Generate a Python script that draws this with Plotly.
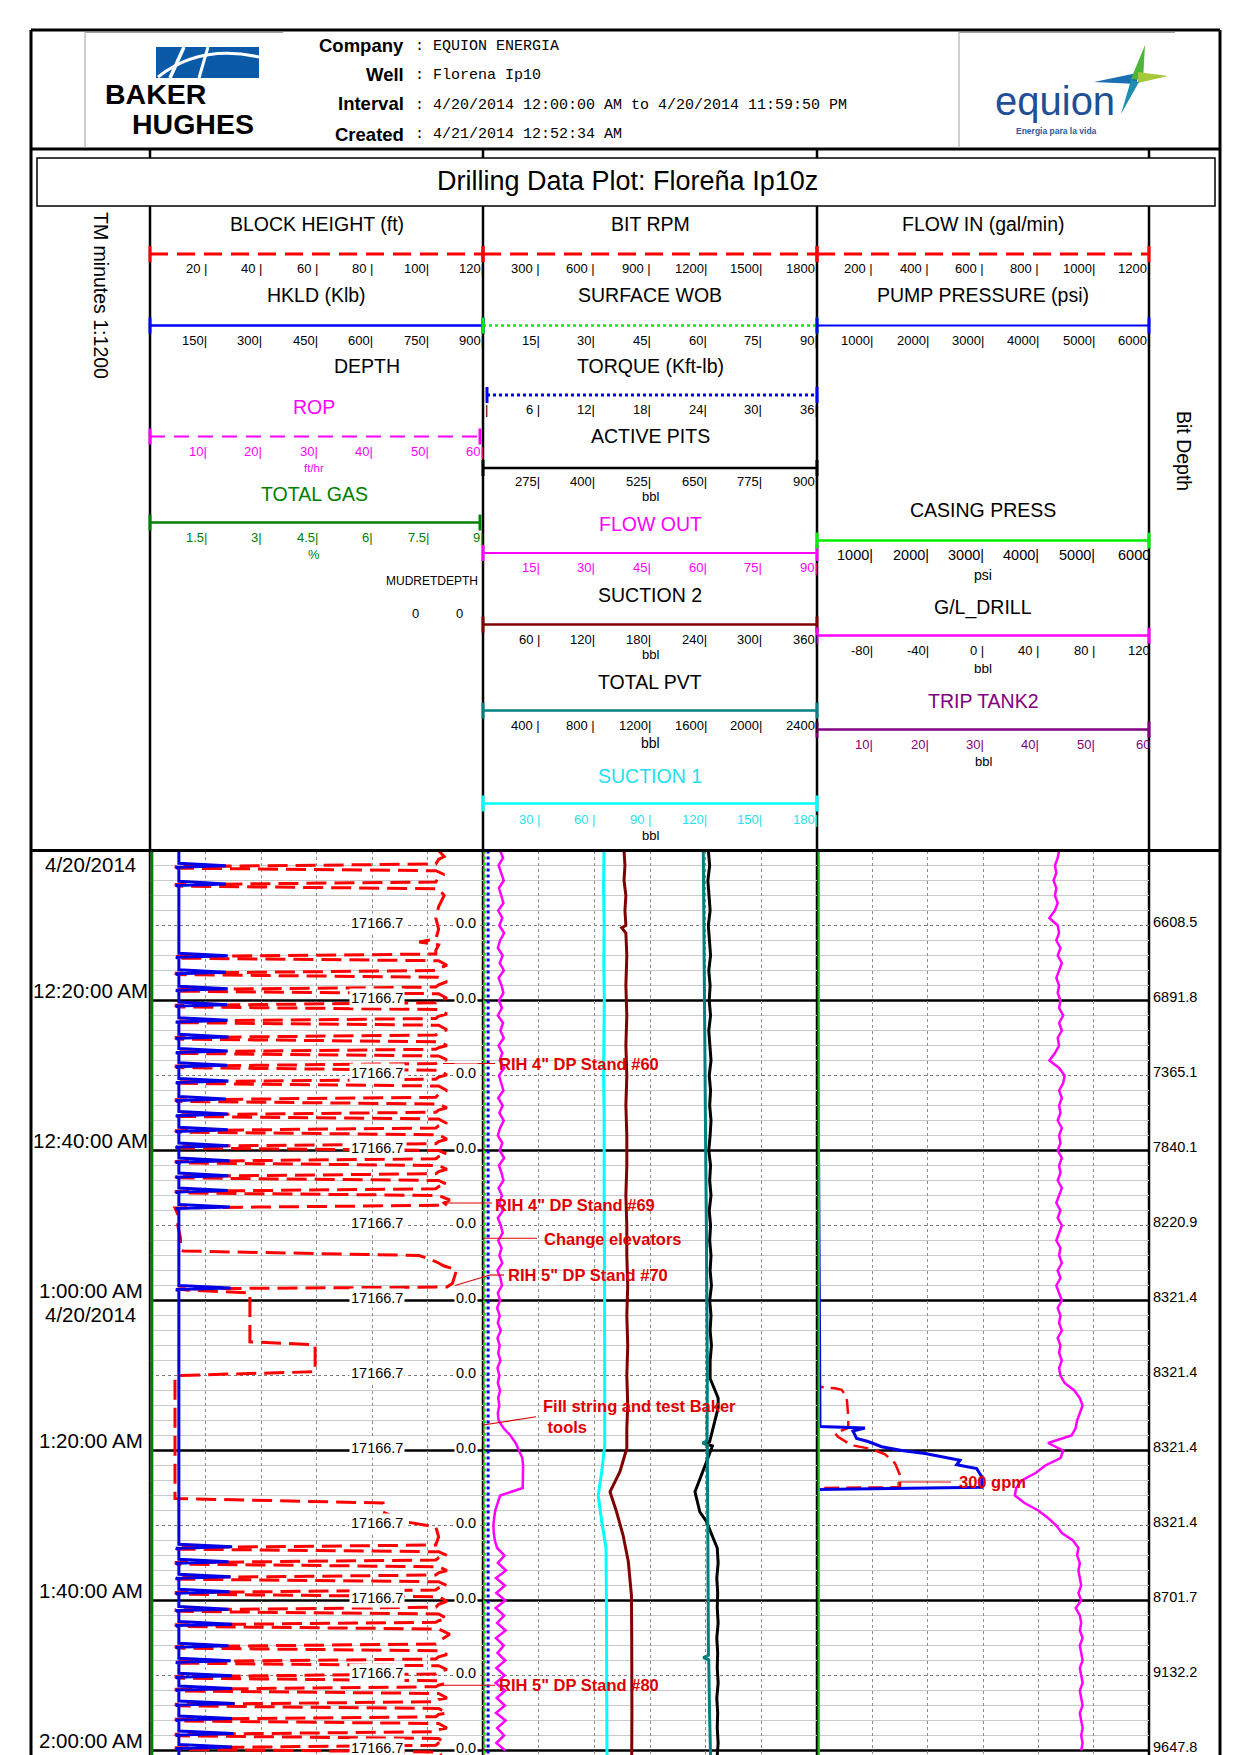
import plotly.graph_objects as go

# ============================ DATA ============================
# time = minutes after 4/20/2014 12:00:00 AM
T_END = 120.6

# --- Track 1 : BLOCK HEIGHT (ft) ---
bh_t = [0, 0.8, 1.2,
        1.8, 2.15, 2.35, 2.7, 3.2, 3.6,
        4.2, 4.55, 4.75, 5.1, 6.0, 7.5, 9.0, 10.5, 11.8, 12.2, 12.6, 13.3,
        13.8, 14.15, 14.35, 14.7, 15.3, 15.7,
        16.0, 16.35, 16.55, 16.9, 17.5, 17.9,
        18.2, 18.55, 18.75, 19.1, 19.7, 20.0,
        20.3, 20.65, 20.85, 21.2, 21.8, 22.1,
        22.4, 22.75, 22.95, 23.3, 23.9, 24.3,
        24.6, 24.95, 25.15, 25.5, 26.0, 26.3,
        26.5, 26.85, 27.05, 27.4, 27.9, 28.2,
        28.4, 28.75, 28.95, 29.3, 29.9, 30.2,
        30.5, 30.85, 31.05, 31.4, 32.0, 32.5,
        32.9, 33.25, 33.45, 33.8, 34.3, 34.6,
        34.9, 35.25, 35.45, 35.8, 36.4, 36.7,
        37.0, 37.35, 37.55, 37.9, 38.5, 38.8,
        39.1, 39.45, 39.65, 40.0, 40.5, 40.8,
        41.1, 41.45, 41.65, 42.0, 42.5, 42.8,
        43.1, 43.45, 43.65, 44.0, 44.5, 44.8,
        45.1, 45.45, 45.65, 46.0, 46.6, 47.0,
        47.3, 47.65, 48.5, 50.0, 51.7, 53.2,
        53.4, 54.0, 54.5, 55.0, 55.4, 55.9, 57.7, 58.2,
        58.45, 58.6, 59.0, 65.5, 65.9, 69.5, 70.0, 70.3, 86.4, 87.0, 88.2, 89.5, 90.2, 91.5,
        92.6, 92.95, 93.15, 93.5, 94.0, 94.3,
        94.6, 94.95, 95.15, 95.5, 96.0, 96.3,
        96.6, 96.95, 97.15, 97.5, 98.0, 98.3,
        98.6, 98.95, 99.15, 99.5, 100.1, 100.5,
        100.9, 101.25, 101.45, 101.8, 102.4, 102.7,
        102.9, 103.25, 103.45, 103.8, 104.5, 105.2,
        105.8, 106.15, 106.35, 106.7, 107.2, 107.5,
        107.8, 108.15, 108.35, 108.7, 109.2, 109.5,
        109.8, 110.15, 110.35, 110.7, 111.1, 111.3,
        111.5, 111.85, 112.05, 112.4, 113.0, 113.2,
        113.5, 113.85, 114.05, 114.4, 115.0, 115.2,
        115.5, 115.85, 116.05, 116.4, 117.0, 117.2,
        117.5, 117.85, 118.05, 118.4, 118.9, 119.0,
        119.3, 119.65, 119.85, 120.2, 120.6]
bh_v = [104, 106, 104,
        103, 9, 10, 103, 106, 104,
        103, 9, 10, 104, 106, 104, 103, 104, 103, 97, 104, 103,
        103, 9, 10, 104, 107, 104,
        103, 9, 10, 104, 107, 104,
        103, 9, 10, 104, 107, 104,
        103, 9, 10, 104, 107, 104,
        103, 9, 10, 104, 107, 104,
        103, 9, 10, 104, 107, 104,
        103, 9, 10, 104, 107, 104,
        103, 9, 10, 104, 107, 104,
        103, 9, 10, 104, 107, 104,
        103, 9, 10, 104, 107, 104,
        103, 9, 10, 104, 107, 104,
        103, 9, 10, 104, 107, 104,
        103, 9, 10, 104, 107, 104,
        103, 9, 10, 104, 107, 104,
        103, 9, 10, 104, 107, 104,
        103, 9, 10, 104, 108, 106,
        107, 9, 10, 10, 11, 11,
        12, 97, 101, 104, 106, 110.5, 109, 107,
        10, 13, 36, 36, 59.5, 59.5, 10, 9, 9, 84, 84, 92, 103, 104,
        103, 9, 10, 104, 107, 104,
        103, 9, 10, 104, 107, 104,
        103, 9, 10, 104, 107, 104,
        103, 9, 10, 104, 107, 104,
        103, 9, 10, 104, 107, 104,
        103, 9, 10, 104, 108, 105,
        103, 9, 10, 104, 107, 104,
        103, 9, 10, 104, 107, 104,
        103, 9, 10, 104, 106, 104,
        103, 9, 10, 104, 107, 104,
        103, 9, 10, 104, 107, 104,
        103, 9, 10, 104, 107, 104,
        103, 9, 10, 104, 106, 104,
        103, 9, 10, 104, 105]

# --- Track 1 : HKLD (Klb) ---
hkld_t = [0,
          1.7, 2.05, 2.25, 2.4,
          4.1, 4.45, 4.65, 4.8,
          13.7, 14.05, 14.25, 14.4,
          15.9, 16.25, 16.45, 16.6,
          18.1, 18.45, 18.65, 18.8,
          20.2, 20.55, 20.75, 20.9,
          22.3, 22.65, 22.85, 23.0,
          24.5, 24.85, 25.05, 25.2,
          26.4, 26.75, 26.95, 27.1,
          28.3, 28.65, 28.85, 29.0,
          30.4, 30.75, 30.95, 31.1,
          32.8, 33.15, 33.35, 33.5,
          34.8, 35.15, 35.35, 35.5,
          36.9, 37.25, 37.45, 37.6,
          39.0, 39.35, 39.55, 39.7,
          41.0, 41.35, 41.55, 41.7,
          43.0, 43.35, 43.55, 43.7,
          45.0, 45.35, 45.55, 45.7,
          47.2, 47.55, 47.75, 47.9,
          58.0, 58.35, 58.55, 58.7,
          92.5, 92.85, 93.05, 93.2,
          94.5, 94.85, 95.05, 95.2,
          96.5, 96.85, 97.05, 97.2,
          98.5, 98.85, 99.05, 99.2,
          100.8, 101.15, 101.35, 101.5,
          102.8, 103.15, 103.35, 103.5,
          105.7, 106.05, 106.25, 106.4,
          107.7, 108.05, 108.25, 108.4,
          109.7, 110.05, 110.25, 110.4,
          111.4, 111.75, 111.95, 112.1,
          113.4, 113.75, 113.95, 114.1,
          115.4, 115.75, 115.95, 116.1,
          117.4, 117.75, 117.95, 118.1,
          119.2, 119.55, 119.75, 119.9,
          120.6]
hkld_v = [78,
          78, 205, 70, 78,
          78, 205, 70, 78,
          78, 210, 70, 78,
          78, 205, 70, 78,
          78, 210, 70, 78,
          78, 208, 70, 78,
          78, 210, 70, 78,
          78, 212, 70, 78,
          78, 210, 70, 78,
          78, 208, 70, 78,
          78, 212, 70, 78,
          78, 205, 70, 78,
          78, 210, 70, 78,
          78, 210, 70, 78,
          78, 212, 70, 78,
          78, 215, 70, 78,
          78, 212, 70, 78,
          78, 210, 70, 78,
          78, 216, 70, 78,
          78, 218, 70, 78,
          78, 222, 70, 78,
          78, 212, 70, 78,
          78, 218, 70, 78,
          78, 215, 70, 78,
          78, 212, 70, 78,
          78, 222, 70, 78,
          78, 212, 70, 78,
          78, 218, 70, 78,
          78, 222, 70, 78,
          78, 222, 70, 78,
          78, 228, 70, 78,
          78, 222, 70, 78,
          78, 225, 70, 78,
          78, 222, 70, 78,
          78]

# flat curves (track edges)
flat_t = [0, T_END]
gas_v = [0.05, 0.05]        # TOTAL GAS %
rop_v = [0.2, 0.2]          # ROP ft/hr
rpm_v = [0, 0]              # BIT RPM
wob_v = [0.4, 0.4]          # SURFACE WOB
torque_v = [0.55, 0.55]     # TORQUE
casing_v = [30, 30]         # CASING PRESS
trip_v = [0, 0]             # TRIP TANK2

# --- Track 2 : FLOW OUT (1-min samples) ---
minutes = list(range(0, 121))
flowout_v = [4.6, 5.4, 4.2, 5.0, 5.6, 4.3, 4.9, 5.5, 4.1, 5.2,
             4.4, 5.7, 4.6, 4.0, 5.3, 4.5, 5.6, 4.2, 5.0, 5.5,
             4.3, 5.1, 4.0, 5.4, 4.7, 5.6, 4.2, 5.2, 4.5, 5.7,
             4.3, 4.9, 5.5, 4.1, 5.3, 4.4, 5.6, 4.6, 4.0, 5.2,
             4.5, 5.7, 4.3, 5.0, 5.5, 4.2, 5.1, 4.4, 5.4, 4.0,
             4.8, 5.3, 4.1, 5.0, 4.4, 5.2, 3.9, 4.7, 5.1, 4.0,
             4.6, 3.8, 4.5, 4.0, 4.8, 3.9, 4.5, 4.1, 4.7, 3.9,
             4.4, 4.0, 4.6, 4.1, 4.4, 4.0, 4.2, 5.5, 7.4, 8.8,
             9.8, 10.6, 10.8, 10.8, 10.9, 10.7, 4.6, 3.9, 3.3, 3.0,
             2.8, 2.9, 3.2, 3.8, 5.8, 4.0, 6.2, 3.5, 5.9, 3.6,
             6.0, 3.4, 5.7, 3.8, 6.1, 3.5, 5.6, 3.9, 6.0, 3.6,
             5.8, 3.4, 6.0, 3.7, 5.9, 3.5, 6.1, 3.8, 5.7, 3.6,
             6.0]

# --- Track 2 : SUCTION 1 (bbl) ---
s1_t = [0, 5, 10, 15, 20, 25, 30, 35, 40, 45, 50, 55, 60, 65, 70, 75, 79.3, 82.8, 86, 89.5, 93, 100, 110, 120.6]
s1_v = [65.2, 65.0, 65.3, 65.1, 65.4, 65.2, 65.0, 65.3, 65.2, 65.4, 65.3, 65.5, 65.6, 65.5, 65.7, 65.6,
        65.6, 64.0, 62.1, 64.0, 66.3, 66.5, 66.7, 66.8]

# --- Track 2 : SUCTION 2 (bbl) ---
s2_t = [0, 2, 4, 6, 8, 10, 10.3, 11, 14, 18, 22, 26, 30, 34, 38, 42, 46, 50, 54, 58, 62, 66, 70, 74, 77,
        79.7, 82.8, 85.5, 88.2, 91.3, 94.8, 99.3, 105, 110, 115, 120.6]
s2_v = [152, 153, 152, 154, 153, 154, 149.5, 154, 155, 154, 155, 154, 155, 154, 155, 155, 154, 155, 155,
        156, 155, 156, 155, 156, 155, 155, 147.7, 136.9, 144, 151, 156.6, 160, 160.3, 160, 160.5, 160.3]

# --- Track 2 : TOTAL PVT (bbl) ---
pvt_t = [0, 10, 20, 30, 40, 50, 60, 70, 78.7, 79.0, 79.3, 90, 100, 107.3, 107.6, 107.9, 115, 120.6]
pvt_v = [1583, 1586, 1590, 1595, 1600, 1605, 1610, 1612, 1610, 1578, 1612, 1615, 1620, 1620, 1583, 1622, 1628, 1635]

# --- Track 2 : ACTIVE PITS (bbl) ---
pits_t = [0, 2, 4, 6, 8, 10, 12, 14, 16, 18, 20, 22, 24, 26, 28, 30, 32, 34, 36, 38, 40, 42, 44, 46, 48,
          50, 52, 54, 56, 58, 60, 62, 64, 66, 68,
          70.4, 73, 74.3, 77, 78.8, 79.0, 79.4, 81.5, 85.5, 88.2, 89.5, 91.7, 93, 95, 97, 99, 101, 103,
          105, 107, 109, 111, 113, 115, 117, 119, 120.6]
pits_v = [656, 659, 655, 658, 660, 656, 659, 661, 657, 660, 658, 661, 657, 660, 662, 658, 661, 659, 662,
          660, 657, 661, 659, 662, 658, 661, 659, 662, 660, 663, 659, 662, 660, 663, 660,
          660, 678, 678, 667, 659, 645, 665, 652, 626, 637, 652, 667, 676, 678, 675, 677, 676, 678,
          675, 677, 676, 678, 675, 677, 676, 678, 676]

# --- Track 3 : FLOW IN (gal/min) ---
flowin_t = [0, 71.5, 71.7, 71.9, 72.8, 75.5, 77.0, 77.7, 78.2, 79.3, 79.8, 80.5, 81.7, 83.3, 84.9, 85.0, 120.6]
flowin_v = [0, 0, 65, 89, 107, 113, 113, 65, 77, 125, 198, 246, 282, 300, 300, 0, 0]

# --- Track 3 : PUMP PRESSURE (psi) ---
pump_t = [0, 76.8, 77.0, 77.4, 78.4, 78.8, 79.5, 80.0, 80.4, 81.1, 81.3, 81.9, 82.4, 83.5, 84.9, 85.2, 120.6]
pump_v = [0, 54, 867, 650, 717, 922, 1169, 1530, 1952, 2494, 2584, 2524, 2886, 2976, 2976, 0, 0]

# --- Track 3 : G/L_DRILL (bbl, 1-min samples) ---
gl_v = [55, 54, 52, 53, 51, 53, 52, 54, 52, 48,
        54, 55, 53, 56, 54, 57, 55, 53, 55, 54,
        56, 55, 58, 55, 57, 54, 55, 52, 48, 55,
        59, 58, 55, 57, 55, 56, 54, 57, 55, 56,
        54, 57, 55, 56, 54, 57, 55, 53, 56, 54,
        57, 55, 53, 56, 55, 57, 54, 56, 53, 55,
        57, 54, 56, 55, 57, 54, 56, 55, 57, 55,
        56, 59, 66, 70, 72, 70, 68, 67, 64, 47,
        58, 56, 45, 38, 28, 24, 23, 30, 40, 47,
        53, 57, 65, 69, 68, 70, 69, 70, 71, 69,
        71, 67, 70, 71, 70, 72, 70, 71, 72, 70,
        71, 72, 70, 71, 72, 70, 71, 72, 71, 72,
        71]

# --- labels ---
time_label_min = [20, 40, 60, 80, 100, 120]
time_labels = ["12:20:00 AM", "12:40:00 AM", "1:00:00 AM", "1:20:00 AM", "1:40:00 AM", "2:00:00 AM"]
date_label = "4/20/2014"
depth_label_min = [10, 20, 30, 40, 50, 60, 70, 80, 90, 100, 110, 120]
depth_labels = ["6608.5", "6891.8", "7365.1", "7840.1", "8220.9", "8321.4",
                "8321.4", "8321.4", "8321.4", "8701.7", "9132.2", "9647.8"]
mudret_depth_label = "17166.7"
mudret_value_label = "0.0"

event_text = ['RIH 4" DP Stand #60', 'RIH 4" DP Stand #69', 'Change elevators',
              'RIH 5" DP Stand #70', 'Fill string and test Baker<br>\u00a0tools', 'RIH 5" DP Stand #80']
event_min = [28.4, 47.2, 51.8, 56.6, 75.5, 111.3]
gpm_text = "300 gpm"
gpm_min = 84.2

block_ticks = ["20 |", "40 |", "60 |", "80 |", "100|", "120|"]
hkld_ticks = ["150|", "300|", "450|", "600|", "750|", "900|"]
rop_ticks = ["10|", "20|", "30|", "40|", "50|", "60|"]
gas_ticks = ["1.5|", "3|", "4.5|", "6|", "7.5|", "9|"]
rpm_ticks = ["300 |", "600 |", "900 |", "1200|", "1500|", "1800|"]
wob_ticks = ["15|", "30|", "45|", "60|", "75|", "90|"]
torque_ticks = ["6 |", "12|", "18|", "24|", "30|", "36|"]
pits_ticks = ["275|", "400|", "525|", "650|", "775|", "900|"]
flowout_ticks = ["15|", "30|", "45|", "60|", "75|", "90|"]
suct2_ticks = ["60 |", "120|", "180|", "240|", "300|", "360|"]
pvt_ticks = ["400 |", "800 |", "1200|", "1600|", "2000|", "2400|"]
suct1_ticks = ["30 |", "60 |", "90 |", "120|", "150|", "180|"]
flowin_ticks = ["200 |", "400 |", "600 |", "800 |", "1000|", "1200|"]
pump_ticks = ["1000|", "2000|", "3000|", "4000|", "5000|", "6000|"]
casing_ticks = ["1000|", "2000|", "3000|", "4000|", "5000|", "6000"]
gl_ticks = ["-80|", "-40|", "0 |", "40 |", "80 |", "120"]
trip_ticks = ["10|", "20|", "30|", "40|", "50|", "60"]

assert len(bh_t) == len(bh_v) and len(hkld_t) == len(hkld_v)
assert len(flowout_v) == len(minutes) == len(gl_v)
assert len(pits_t) == len(pits_v) and len(s2_t) == len(s2_v)

# ============================ LAYOUT HELPERS ============================
W, H = 1240, 1755
FONT = "Liberation Sans, Arial, Helvetica, sans-serif"
MONO = "Liberation Mono, Courier New, monospace"
RED, BLUE, DBLUE = "#ff0000", "#0000ff", "#0000e6"
MAGENTA, GREEN, LIME = "#ff00ff", "#008000", "#00ee00"
DARKRED, TEAL, CYAN, CYANTXT, PURPLE = "#800000", "#008080", "#00ffff", "#1ee0f0", "#800080"
ANNRED = "#e00000"

T1, T2, T3 = (150, 483), (483, 817), (817, 1149)
DATA_TOP = 850.5


def px(x):
    return x / W


def py(y):
    return 1 - y / H


shapes, annotations = [], []


def line(x0, y0, x1, y1, color="black", width=1.0, dash=None, layer="above"):
    ln = dict(color=color, width=width)
    if dash:
        ln["dash"] = dash
    shapes.append(dict(type="line", xref="paper", yref="paper", x0=px(x0), y0=py(y0),
                       x1=px(x1), y1=py(y1), line=ln, layer=layer))


def txt(x, y, s, size, color="black", xanchor="center", family=FONT, angle=0, yanchor="middle"):
    annotations.append(dict(xref="paper", yref="paper", x=px(x), y=py(y), text=s, showarrow=False,
                            xanchor=xanchor, yanchor=yanchor, textangle=angle,
                            font=dict(family=family, size=size, color=color)))


def path(points, close=True):
    s = "M " + " L ".join(f"{px(a):.5f},{py(b):.5f}" for a, b in points)
    return s + (" Z" if close else "")


def scale(track, y, color, width, dash, labels, lab_color="black", size=13, x_start=None, x_end=None,
          lab_dy=14.5, cap=True):
    L, R = track
    xs = x_start if x_start is not None else L
    xe = x_end if x_end is not None else R
    line(xs, y, xe, y, color, width, dash)
    if cap:
        line(xs, y - 8, xs, y + 8, color, 3)
        line(xe, y - 8, xe, y + 8, color, 3)
    for k, lab in enumerate(labels, 1):
        xt = L + k * (R - L) / 6
        txt(xt + 3, y + lab_dy, lab, size, lab_color, xanchor="right")


# ============================ FRAME ============================
line(31, 30, 1220, 30, "black", 3)
line(31, 149, 1220, 149, "black", 3)
line(31, 30, 31, 1755, "black", 3)
line(1220, 30, 1220, 1755, "black", 3)
for xc in (150, 483, 817, 1149):
    line(xc, 149, xc, 1755, "black", 2.5, layer="below")
line(31, DATA_TOP, 1220, DATA_TOP, "black", 3)
shapes.append(dict(type="rect", xref="paper", yref="paper", x0=px(37), x1=px(1215), y0=py(158), y1=py(206),
                   line=dict(color="black", width=1.5), fillcolor="white", layer="above"))
txt(627, 181, "Drilling Data Plot: Flore\u00f1a Ip10z", 27)

# ---- logo boxes ----
line(85, 32.5, 283, 32.5, "#a0a0a0", 1)
line(85, 32.5, 85, 148, "#a0a0a0", 1)
line(959, 32.5, 1175, 32.5, "#a0a0a0", 1)
line(959, 32.5, 959, 148, "#a0a0a0", 1)

# Baker Hughes logo
shapes.append(dict(type="rect", xref="paper", yref="paper", x0=px(156), x1=px(259), y0=py(78), y1=py(47),
                   line=dict(width=0), fillcolor="#0a5aa8"))
shapes.append(dict(type="line", xref="paper", yref="paper", x0=px(170), y0=py(78), x1=px(184), y1=py(47),
                   line=dict(color="white", width=3.5)))
shapes.append(dict(type="line", xref="paper", yref="paper", x0=px(199), y0=py(78), x1=px(208), y1=py(47),
                   line=dict(color="white", width=3)))
shapes.append(dict(type="path", xref="paper", yref="paper",
                   path=f"M {px(158):.5f},{py(77):.5f} Q {px(200):.5f},{py(44):.5f} {px(259):.5f},{py(57):.5f}",
                   line=dict(color="white", width=3)))
txt(156, 94, "<b>BAKER</b>", 28.5)
txt(193, 124, "<b>HUGHES</b>", 28.5)

# Equion logo
txt(1055, 101, "equion", 40, "#1f4f97")
txt(1056, 131, "<b>Energia para la vida</b>", 8.5, "#2a5aa0")
for pts, col in (([(1094, 82), (1137, 73), (1137, 84)], "#1a6fb5"),
                 ([(1131, 79), (1145, 45), (1143, 80)], "#4cb535"),
                 ([(1138, 72), (1168, 76), (1138, 83)], "#a7c83a"),
                 ([(1131, 80), (1121, 114), (1139, 82)], "#1f8fb0")):
    shapes.append(dict(type="path", xref="paper", yref="paper", path=path(pts),
                       fillcolor=col, line=dict(width=0)))

# header info
for lab, val, yy in (("Company", "EQUION ENERGIA", 45), ("Well", "Florena Ip10", 75),
                     ("Interval", "4/20/2014 12:00:00 AM to 4/20/2014 11:59:50 PM", 104),
                     ("Created", "4/21/2014 12:52:34 AM", 134)):
    txt(406, yy, f"<b>{lab}</b>", 18.5, xanchor="right")
    txt(413, yy + 1, ": " + val, 15, family=MONO, xanchor="left")

# ============================ HEADER SCALES ============================
c1, c2, c3 = 316.5, 650, 983
HS = 19.5
txt(101, 295, "TM minutes 1:1200", HS, angle=90)
txt(1184, 451, "Bit Depth", HS, angle=90)

# Track 1
txt(c1, 224, "BLOCK HEIGHT (ft)", HS)
scale(T1, 254, RED, 3, "18px,9px", block_ticks)
txt(c1, 295, "HKLD (Klb)", HS)
scale(T1, 325.6, BLUE, 2.5, None, hkld_ticks)
txt(367, 366, "DEPTH", HS)
txt(314, 407, "ROP", HS, MAGENTA)
scale(T1, 436.5, MAGENTA, 2, "15px,9px", rop_ticks, MAGENTA, x_end=480)
txt(314, 468, "ft/hr", 11.5, MAGENTA)
txt(314, 493.5, "TOTAL GAS", HS, GREEN)
scale(T1, 522.6, GREEN, 2.5, None, gas_ticks, GREEN, x_end=480)
txt(314, 554, "%", 13, GREEN)
txt(432, 581, "MUDRETDEPTH", 12)
txt(415, 613, "0", 13)
txt(459, 613, "0", 13)

# Track 2
txt(c2, 224, "BIT RPM", HS)
scale(T2, 254, RED, 3, "18px,9px", rpm_ticks)
txt(c2, 295, "SURFACE WOB", HS)
scale(T2, 325.6, LIME, 2.5, "dot", wob_ticks)
txt(c2, 366, "TORQUE (Kft-lb)", HS)
scale(T2, 395, BLUE, 3, "dot", torque_ticks, x_start=487)
txt(490, 409.6, "|", 13, xanchor="right")
txt(c2, 436, "ACTIVE PITS", HS)
scale(T2, 468, "black", 2.5, None, pits_ticks, lab_dy=13)
txt(c2, 497, "bbl", 13)
txt(c2, 524, "FLOW OUT", HS, MAGENTA)
scale(T2, 553, MAGENTA, 2, None, flowout_ticks, MAGENTA)
txt(c2, 595, "SUCTION 2", HS)
scale(T2, 624.5, DARKRED, 2.5, None, suct2_ticks)
txt(c2, 655, "bbl", 13)
txt(c2, 681.5, "TOTAL PVT", HS)
scale(T2, 710.6, TEAL, 2.5, None, pvt_ticks)
txt(c2, 743, "bbl", 14)
txt(c2, 775.5, "SUCTION 1", HS, CYANTXT)
scale(T2, 803.5, CYAN, 2.5, None, suct1_ticks, CYANTXT, lab_dy=15.5)
txt(c2, 835, "bbl", 13)

# Track 3
txt(c3, 224, "FLOW IN (gal/min)", HS)
scale(T3, 254, RED, 3, "18px,9px", flowin_ticks)
txt(c3, 295, "PUMP PRESSURE (psi)", HS)
scale(T3, 325.6, BLUE, 2, None, pump_ticks)
txt(c3, 510, "CASING PRESS", HS)
scale(T3, 540.5, LIME, 2.5, None, casing_ticks, size=14.5)
txt(c3, 575, "psi", 14)
txt(c3, 607.7, "G/L_DRILL", HS)
scale(T3, 635.6, MAGENTA, 2.5, None, gl_ticks)
txt(c3, 668, "bbl", 13.5)
txt(c3, 700.5, "TRIP TANK2", HS, PURPLE)
scale(T3, 729.6, PURPLE, 2.5, None, trip_ticks, PURPLE)
txt(c3, 761, "bbl", 13)

# ============================ DATA AREA GRID ============================
for m in range(2, 121, 2):
    if m % 20 == 0:
        ln = dict(color="black", width=2.5)
    elif m % 10 == 0:
        ln = dict(color="#7a7a7a", width=1, dash="dot")
    else:
        ln = dict(color="#c9c9c9", width=1)
    shapes.append(dict(type="line", xref="paper", yref="y", x0=px(150), x1=px(1149), y0=m, y1=m,
                       line=ln, layer="below"))

TS = 20.5
# time labels
annotations.append(dict(xref="paper", yref="y", x=px(91), y=0, text=date_label, showarrow=False,
                        xanchor="center", yanchor="top", font=dict(family=FONT, size=TS, color="black")))
for m, lab in zip(time_label_min, time_labels):
    annotations.append(dict(xref="paper", yref="y", x=px(91), y=m, text=lab, showarrow=False,
                            xanchor="center", yanchor="bottom", yshift=-3,
                            font=dict(family=FONT, size=TS, color="black")))
annotations.append(dict(xref="paper", yref="y", x=px(91), y=60, text=date_label, showarrow=False,
                        xanchor="center", yanchor="top", font=dict(family=FONT, size=TS, color="black")))

# depth labels + mud return labels
for m, lab in zip(depth_label_min, depth_labels):
    annotations.append(dict(xref="paper", yref="y", x=px(1151), y=m, text=lab, showarrow=False,
                            xanchor="left", yanchor="middle", yshift=4,
                            font=dict(family=FONT, size=14.5, color="black")))
    annotations.append(dict(xref="paper", yref="y", x=px(405), y=m, text=mudret_depth_label, showarrow=False,
                            xanchor="right", yanchor="middle", yshift=3, bgcolor="white", borderpad=1,
                            font=dict(family=FONT, size=14.5, color="black")))
    annotations.append(dict(xref="paper", yref="y", x=px(478), y=m, text=mudret_value_label, showarrow=False,
                            xanchor="right", yanchor="middle", yshift=3, bgcolor="white", borderpad=1,
                            font=dict(family=FONT, size=14.5, color="black")))

# event annotations
event_x = [497, 493, 542, 506, 541, 497]
for xx, m, s in zip(event_x, event_min, event_text):
    annotations.append(dict(xref="paper", yref="y", x=px(xx), y=m, text=f"<b>{s}</b>", showarrow=False,
                            xanchor="left", yanchor="middle", align="left",
                            font=dict(family=FONT, size=16.5, color=ANNRED)))
annotations.append(dict(xref="paper", yref="y", x=px(957), y=gpm_min, text=f"<b>{gpm_text}</b>", showarrow=False,
                        xanchor="left", yanchor="middle", font=dict(family=FONT, size=16.5, color=ANNRED)))
leaders = [(443, 28.4, 495, 28.4), (447, 47.0, 492, 47.0), (483, 51.7, 537, 51.7),
           (455, 58.0, 490, 56.6), (490, 56.6, 504, 56.6), (483, 76.6, 536, 75.5),
           (437, 111.3, 495, 111.3), (898, 84.2, 951, 84.2), (898, 84.2, 898, 84.9)]
for x0, m0, x1, m1 in leaders:
    shapes.append(dict(type="line", xref="paper", yref="y", x0=px(x0), x1=px(x1), y0=m0, y1=m1,
                       line=dict(color=ANNRED, width=1.2), layer="above"))

# ============================ TRACES ============================
fig = go.Figure()


def add(xv, tv, axis, color, width, dash=None):
    ln = dict(color=color, width=width)
    if dash:
        ln["dash"] = dash
    fig.add_trace(go.Scatter(x=xv, y=tv, xaxis=axis, yaxis="y", mode="lines", line=ln,
                             hoverinfo="skip", showlegend=False))


# Track 1
add(gas_v, flat_t, "x4", GREEN, 3)
add(rop_v, flat_t, "x3", MAGENTA, 1.5)
add(bh_v, bh_t, "x", RED, 3, "20px,8px")
add(hkld_v, hkld_t, "x2", DBLUE, 3)
# Track 2
add(rpm_v, flat_t, "x5", RED, 2.5)
add(wob_v, flat_t, "x6", LIME, 2.5, "dot")
add(torque_v, flat_t, "x7", BLUE, 3, "dot")
add(flowout_v, minutes, "x9", MAGENTA, 2.5)
add(s1_v, s1_t, "x12", CYAN, 3)
add(s2_v, s2_t, "x10", DARKRED, 3)
add(pvt_v, pvt_t, "x11", TEAL, 3)
add(pits_v, pits_t, "x8", "black", 3)
# Track 3
add(flowin_v, flowin_t, "x13", RED, 2.5, "15px,7px")
add(pump_v, pump_t, "x14", DBLUE, 3)
add(trip_v, flat_t, "x17", PURPLE, 2.5)
add(casing_v, flat_t, "x15", LIME, 2.5)
add(gl_v, minutes, "x16", MAGENTA, 2.5)

grid = dict(showgrid=True, gridcolor="#8c8c8c", griddash="dot", gridwidth=1, showticklabels=False,
            ticks="", zeroline=False, showline=False, anchor="y", fixedrange=True)


def overlay(base, rng):
    return dict(overlaying=base, range=rng, visible=False, anchor="y", fixedrange=True)


layout = dict(
    width=W, height=H, margin=dict(l=0, r=0, t=0, b=0, pad=0), autosize=False,
    paper_bgcolor="white", plot_bgcolor="rgba(0,0,0,0)", showlegend=False,
    yaxis=dict(domain=[0, py(DATA_TOP)], range=[T_END, 0], visible=False, showgrid=False,
               zeroline=False, anchor="x", fixedrange=True),
    xaxis=dict(domain=[px(T1[0]), px(T1[1])], range=[0, 120], dtick=20, tick0=0, **grid),
    xaxis2=overlay("x", [0, 900]),
    xaxis3=overlay("x", [0, 60]),
    xaxis4=overlay("x", [0, 9]),
    xaxis5=dict(domain=[px(T2[0]), px(T2[1])], range=[0, 1800], dtick=300, tick0=0, **grid),
    xaxis6=overlay("x5", [0, 90]),
    xaxis7=overlay("x5", [0, 36]),
    xaxis8=overlay("x5", [150, 900]),
    xaxis9=overlay("x5", [0, 90]),
    xaxis10=overlay("x5", [0, 360]),
    xaxis11=overlay("x5", [0, 2400]),
    xaxis12=overlay("x5", [0, 180]),
    xaxis13=dict(domain=[px(T3[0]), px(T3[1])], range=[0, 1200], dtick=200, tick0=0, **grid),
    xaxis14=overlay("x13", [0, 6000]),
    xaxis15=overlay("x13", [0, 6000]),
    xaxis16=overlay("x13", [-120, 120]),
    xaxis17=overlay("x13", [0, 60]),
    shapes=shapes, annotations=annotations,
)
fig.update_layout(**layout)
fig.write_html("out.html")
